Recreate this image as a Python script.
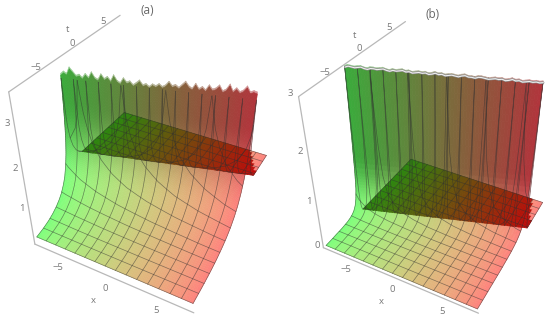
import numpy as np, matplotlib
matplotlib.use('Agg')
import matplotlib.pyplot as plt, seaborn as sns
from mpl_toolkits.mplot3d import proj3d

sns.set_theme(style='white')
plt.rcParams['font.family'] = ['Open Sans', 'DejaVu Sans']

x_ticks = [-5, 0, 5]
t_ticks = [-5, 0, 5]
za_ticks = [1, 2, 3]
zb_ticks = [0, 1, 2, 3]
titles = ['(a)', '(b)']

# crest position and the start of the flat part (t at x=-8, t at x=8)
ridge_a = [-2.0, 2.6]
edge_a = [0.0, 4.5]
ridge_b = [-2.3, 3.1]
edge_b = [-1.8, 3.6]
# height on the front sheet against the fraction of the way from the crest to the front edge
front_u = [1.0, .85, .7, .58, .47, .38, .3, .23, .17, .12, .08, .05, .03, .015, .006, 0.0]
front_a = [.24, .28, .34, .41, .5, .6, .72, .87, 1.05, 1.28, 1.55, 1.85, 2.2, 2.6, 3.0, 3.3]
front_b = [.04, .04, .05, .05, .06, .07, .09, .12, .17, .25, .38, .58, .95, 1.6, 2.4, 3.0]
# behind the crest: fraction of the way to the flat part, and height
back_f = [.02, .05, .1, .2, .35, .55, .8, 1.0]
back_a = [3.0, 2.5, 2.15, 1.85, 1.62, 1.45, 1.33, 1.27]
back_b = [2.6, 1.9, 1.2, .6, .3, .12, .03, 0.0]
# crest height along x
peak_a = [3.36, 3.42, 3.38, 3.52, 3.44, 3.36, 3.39, 3.33, 3.42, 3.35, 3.47, 3.36, 3.33, 3.45, 3.36, 3.41,
          3.33, 3.46, 3.35, 3.31, 3.42, 3.34, 3.37, 3.3, 3.35, 3.41, 3.32, 3.35, 3.3, 3.36, 3.33, 3.38,
          3.33, 3.37, 3.45, 3.37, 3.4, 3.35, 3.42, 3.49, 3.4, 3.36, 3.47, 3.37, 3.42, 3.36, 3.47, 3.39,
          3.42, 3.49, 3.38, 3.42, 3.53, 3.4, 3.47, 3.4, 3.44, 3.53, 3.42, 3.45, 3.43]
peak_b = [2.98, 3.0, 2.99, 2.98, 2.99, 3.0, 2.98, 2.97, 2.99, 2.99, 2.98, 2.99, 3.0, 2.98, 2.97, 2.99,
          2.98, 2.99, 3.0, 2.98, 2.99, 2.97, 2.98, 2.99, 2.98, 2.99, 2.97, 2.98, 3.0, 2.98, 2.99, 2.97,
          2.98, 2.99, 2.98, 2.97, 2.99, 3.0, 2.98, 2.98, 2.97, 2.99, 2.99, 2.98, 2.97, 2.98, 2.99, 2.98,
          2.99, 2.97, 2.98, 3.0, 2.98, 2.99, 2.97, 2.98, 2.99, 2.98, 2.99, 2.98, 2.99]

G_WALL, R_WALL = np.array([60, 170, 60]) / 255, np.array([178, 52, 60]) / 255
G_PLANE, R_PLANE = np.array([45, 135, 15]) / 255, np.array([190, 10, 10]) / 255
AXC, TXC = '#b8b8b8', '#787878'
L, E = 8.2, 8.0
AX_PX = 200

fig = plt.figure(figsize=(5.5, 3.22), dpi=100)


def light(g):
    base = np.array([125, 125, 125]) / 255
    return base + (1 - g) ** .7 * np.array([0, 130, 0]) / 255 + g ** .7 * np.array([130, 0, 0]) / 255


def refine(a, n=6):
    a = np.asarray(a, float)
    return np.interp(np.linspace(0, len(a) - 1, (len(a) - 1) * n + 1), np.arange(len(a)), a)


def panel(centre, view, zr, ridge, edge, fz, bz, peak, zw, zticks, plane_z, kdark, crest_line):
    el, az, f, zm, k = view
    c = 322 / AX_PX
    ax = fig.add_axes([(centre[0] - AX_PX / 2) / 550, (322 - centre[1] - AX_PX / 2) / 322,
                       AX_PX / 550, AX_PX / 322], projection='3d', computed_zorder=False)
    ax.patch.set_visible(False)
    ax.view_init(el, az)
    ax.set_proj_type('persp', focal_length=f * c)
    ax.set_box_aspect((1, 1, k), zoom=zm * c)
    ax.set_xlim(-L, L); ax.set_ylim(-L, L); ax.set_zlim(*zr)
    ax.set_xticks([]); ax.set_yticks([]); ax.set_zticks([])
    ax.set_axis_off()
    fu0, fz0, bf0, bz0, peak = map(np.array, (front_u, fz, back_f, bz, peak))
    fu, fzr = refine(fu0), refine(fz0)
    bf, bzr = refine(np.r_[0, bf0]), refine(np.r_[fz0[-1], bz0])
    xs = np.linspace(-E, E, 61)
    t0 = np.interp(xs, [-E, E], ridge)
    e0 = np.interp(xs, [-E, E], edge)
    g = ((xs + E) / (2 * E))[None, :, None]

    def rgba(z):
        w = np.clip((z - zw[0]) / (zw[1] - zw[0]), 0, 1)[..., None]
        w = w * w * (3 - 2 * w)
        D = light(g) * (1 - w) + (G_WALL * (1 - g) + R_WALL * g) * w
        return np.concatenate([D, np.ones_like(w)], axis=-1)

    top = fz0[-1]
    Zf = fzr[:, None] + (peak[None, :] - top) * (fzr[:, None] / top) ** 6
    Tf = t0[None, :] - fu[:, None] * (t0[None, :] + E)
    Xf = np.tile(xs, (len(fu), 1))
    Zb = bzr[:, None] + (peak[None, :] - top) * (bzr[:, None] / top) ** 6
    Tb = t0[None, :] + bf[:, None] * (e0 - t0)[None, :]
    Xb = np.tile(xs, (len(bf), 1))
    # flat part
    frac = np.linspace(0, 1, 15)[:, None]
    Tp = e0 + (E - e0) * frac
    Xp = np.tile(xs, (15, 1))
    Zp = np.full_like(Xp, plane_z)
    lim = E - (Tp - edge[1]) * kdark
    dark = (Xp < lim)[..., None]
    gp = ((Xp + E) / (2 * E))[..., None]
    P = np.where(dark, G_PLANE * (1 - gp) + R_PLANE * gp, light(gp))
    Pc = np.concatenate([P, np.ones_like(gp)], axis=-1)
    kw = dict(rstride=1, cstride=1, shade=False, linewidth=.4, antialiased=True, clip_on=False)
    Cb = rgba(Zb)
    Cb[..., :3] = Cb[..., :3] * .55 + .45
    ax.plot_surface(Xb, Tb, Zb * 1.012, facecolors=Cb, zorder=2, **kw)
    ax.plot_surface(Xf, Tf, Zf, facecolors=rgba(Zf), zorder=3, **kw)
    ax.plot_surface(Xp, Tp, Zp, facecolors=Pc, zorder=3.5, **kw)

    # mesh lines
    lc = dict(color='#303030', lw=.5, alpha=.55, zorder=4, clip_on=False)
    lines_x = np.linspace(-E, E, 16)
    lines_t = np.linspace(-E, E, 16)

    def height(x, t):
        r = np.interp(x, [-E, E], ridge)
        ed = np.interp(x, [-E, E], edge)
        s = t - r
        return np.where(s <= 0, np.interp(-s / (r + E), fu[::-1], fzr[::-1]),
                        np.interp(s / (ed - r), bf, bzr, right=plane_z))

    for xv in lines_x:
        r = np.interp(xv, [-E, E], ridge)
        ed = np.interp(xv, [-E, E], edge)
        ts = np.r_[r - fu * (r + E), r + bf * (ed - r), E]
        ax.plot(np.full_like(ts, xv), ts, height(xv, ts), **lc)
    xf = np.linspace(-E, E, 900)
    for tv in lines_t:
        ax.plot(xf, np.full_like(xf, tv), height(xf, np.full_like(xf, tv)), **lc)

    if crest_line:
        ax.plot(xs, t0 + .06, peak, color='#8a8a8a', lw=1.7, zorder=5, clip_on=False)
        ax.plot(xs, t0 + .06, peak, color='#f0f0f0', lw=.8, zorder=5.5, clip_on=False)

    # axes
    al = dict(color=AXC, lw=.9, zorder=6, clip_on=False)
    ax.plot([-L, L], [-L, -L], [zr[0], zr[0]], **al)
    ax.plot([-L, -L], [-L, -L], zr, **al)
    ax.plot([-L, -L], [-L, L], [zr[1], zr[1]], **al)

    M = ax.get_proj()

    def label(x, y, z, s):
        px, py, _ = proj3d.proj_transform(x, y, z, M)
        ax.text2D(px, py, s, transform=ax.transData, color=TXC, fontsize=6.8,
                  ha='center', va='center', zorder=7)

    fmt = lambda v: str(v).replace('-', '\u2212')
    for v in x_ticks:
        label(v + .35, -L - 1.3, zr[0], fmt(v))
    label(.22, -L - 2.85, zr[0], 'x')
    dz = zr[1] - zr[0]
    for v in t_ticks:
        label(-L, v + .3, zr[1] + .028 * dz, fmt(v))
    label(-L, -.2, zr[1] + .115 * dz, 't')
    for v in zticks:
        label(-L - .5, -L - .3, v + .05, fmt(v))
    return ax


panel((151.39, 155.244), (36.581, -61.408, .335, .958, 1.001), (.05, 3.7), ridge_a, edge_a,
      front_a, back_a, peak_a, (.9, 2.8), za_ticks, 1.27, .54, False)
panel((436.58, 159.44), (36.476, -61.736, .338, .938, 1.021), (0, 3), ridge_b, edge_b,
      front_b, back_b, peak_b, (.08, 1.3), zb_ticks, 0.0, .3, True)
fig.text(147 / 550, 1 - 10 / 322, titles[0], color='#686868', fontsize=8.5, ha='center', va='center')
fig.text(433 / 550, 1 - 15 / 322, titles[1], color='#686868', fontsize=8.5, ha='center', va='center')
fig.savefig('out.png', dpi=100)
